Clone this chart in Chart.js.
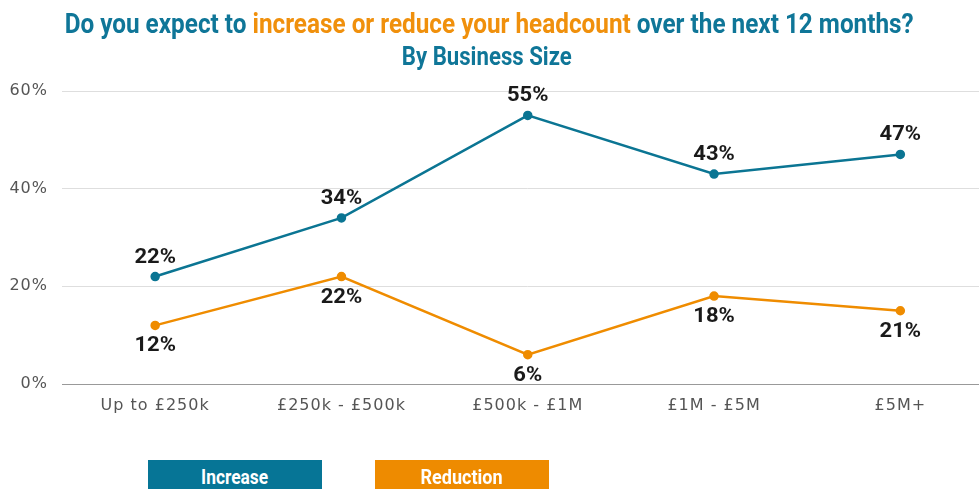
<!DOCTYPE html>
<html>
<head>
<meta charset="utf-8">
<script src="https://cdn.jsdelivr.net/npm/chart.js@4"></script>
<style>
    html, body { margin: 0; padding: 0; background: #fff; overflow: hidden; }
    #wrap { position: relative; width: 979px; height: 489px; overflow: hidden; }
    #chart { position: absolute; left: 0; top: 0; }
    .title {
        position: absolute; left: 0; width: 974px; text-align: center;
        font-family: Roboto, sans-serif; font-weight: bold; color: #0f7698; white-space: nowrap;
    }
    .title span.fit, .key span.fit { display: inline-block; transform-origin: 50% 50%; }
    #t1 { top: 10px; font-size: 28px; line-height: 28px; }
    #t2 { top: 44px; font-size: 25px; line-height: 25px; }
    .hl { color: #f0900c; }
    .key {
        position: absolute; top: 460px; width: 174px; height: 34px;
        text-align: center; color: #fff; white-space: nowrap;
    }
    .key span.fit {
        margin-top: 7px; font-size: 20px; line-height: 20px; font-weight: bold;
        font-family: Roboto, sans-serif;
    }
</style>
</head>
<body>
<div id="wrap">
    <canvas id="chart" width="1000" height="489"></canvas>
    <div class="title" id="t1"><span class="fit" data-w="849">Do you expect to <span class="hl">increase or reduce your headcount</span> over the next 12 months?</span></div>
    <div class="title" id="t2"><span class="fit" data-w="170">By Business Size</span></div>
    <div class="key" style="left:148px; background:#067596;"><span class="fit" data-w="67">Increase</span></div>
    <div class="key" style="left:375px; background:#ee8b00;"><span class="fit" data-w="82">Reduction</span></div>
</div>
<script>
// Chart data
var categories = ['Up to £250k', '£250k - £500k', '£500k - £1M', '£1M - £5M', '£5M+']
var increase = [22, 34, 55, 43, 47]
var reduction = [12, 22, 6, 18, 15]
// Printed labels (last reduction label reads 21% in the source)
var increaseLabels = ['22%', '34%', '55%', '43%', '47%']
var reductionLabels = ['12%', '22%', '6%', '18%', '21%']
var yTicks = [0, 20, 40, 60]

var blue = '#0b7593'
var orange = '#ef8c00'

// Squeeze condensed-looking text to its measured width
function fitText() {
    document.querySelectorAll('span.fit').forEach(function (el) {
        el.style.transform = 'none'
        var w = el.getBoundingClientRect().width
        el.style.transform = 'scaleX(' + (parseFloat(el.dataset.w) / w) + ')'
    })
}
fitText()
if (document.fonts) document.fonts.ready.then(fitText)

// Wider letter spacing for axis ticks
var spacing = {
    id: 'spacing',
    beforeDraw: function (chart) { chart.ctx.letterSpacing = '1px' },
    afterDraw: function (chart) { chart.ctx.letterSpacing = '0px' }
}

// Draw value labels above (increase) and below (reduction) the points
var valueLabels = {
    id: 'valueLabels',
    afterDatasetsDraw: function (chart) {
        var ctx = chart.ctx
        chart.data.datasets.forEach(function (ds, i) {
            var meta = chart.getDatasetMeta(i)
            meta.data.forEach(function (pt, j) {
                var dy = i === 0 ? -19 : 21
                ctx.save()
                ctx.letterSpacing = '0px'
                ctx.font = 'bold 20px Roboto, sans-serif'
                ctx.fillStyle = '#1a1a1a'
                ctx.textAlign = 'center'
                ctx.textBaseline = 'middle'
                ctx.translate(pt.x, pt.y + dy)
                ctx.scale(1.1, 1)
                ctx.fillText(ds.printed[j], 0, 0)
                ctx.restore()
            })
        })
    }
}

new Chart(document.getElementById('chart'), {
    type: 'line',
    data: {
        labels: categories,
        datasets: [
            {
                label: 'Increase',
                data: increase,
                printed: increaseLabels,
                borderColor: blue,
                backgroundColor: blue,
                borderWidth: 2.5,
                pointRadius: 3.5,
                tension: 0
            },
            {
                label: 'Reduction',
                data: reduction,
                printed: reductionLabels,
                borderColor: orange,
                backgroundColor: orange,
                borderWidth: 2.5,
                pointRadius: 3.5,
                tension: 0
            }
        ]
    },
    options: {
        responsive: false,
        animation: false,
        layout: { padding: { top: 91, bottom: 65, left: 0, right: 0 } },
        plugins: {
            legend: { display: false },
            title: { display: false },
            tooltip: { enabled: false }
        },
        scales: {
            x: {
                offset: true,
                grid: { display: false, drawTicks: false },
                border: { display: true, color: '#999', width: 1 },
                ticks: {
                    padding: 12,
                    color: '#555',
                    font: { family: 'DejaVu Sans', size: 16 }
                },
                afterFit: function (scale) { scale.height = 40 }
            },
            y: {
                min: 0,
                max: 60,
                afterBuildTicks: function (scale) {
                    scale.ticks = yTicks.map(function (v) { return { value: v } })
                },
                grid: {
                    drawTicks: false,
                    color: function (c) { return c.tick && c.tick.value === 0 ? '#999' : '#dedede' }
                },
                border: { display: false },
                ticks: {
                    padding: 14,
                    color: '#555',
                    font: { family: 'DejaVu Sans', size: 16 },
                    callback: function (v) { return v + '%' }
                },
                afterFit: function (scale) { scale.width = 62 }
            }
        }
    },
    plugins: [spacing, valueLabels]
})
</script>
</body>
</html>
